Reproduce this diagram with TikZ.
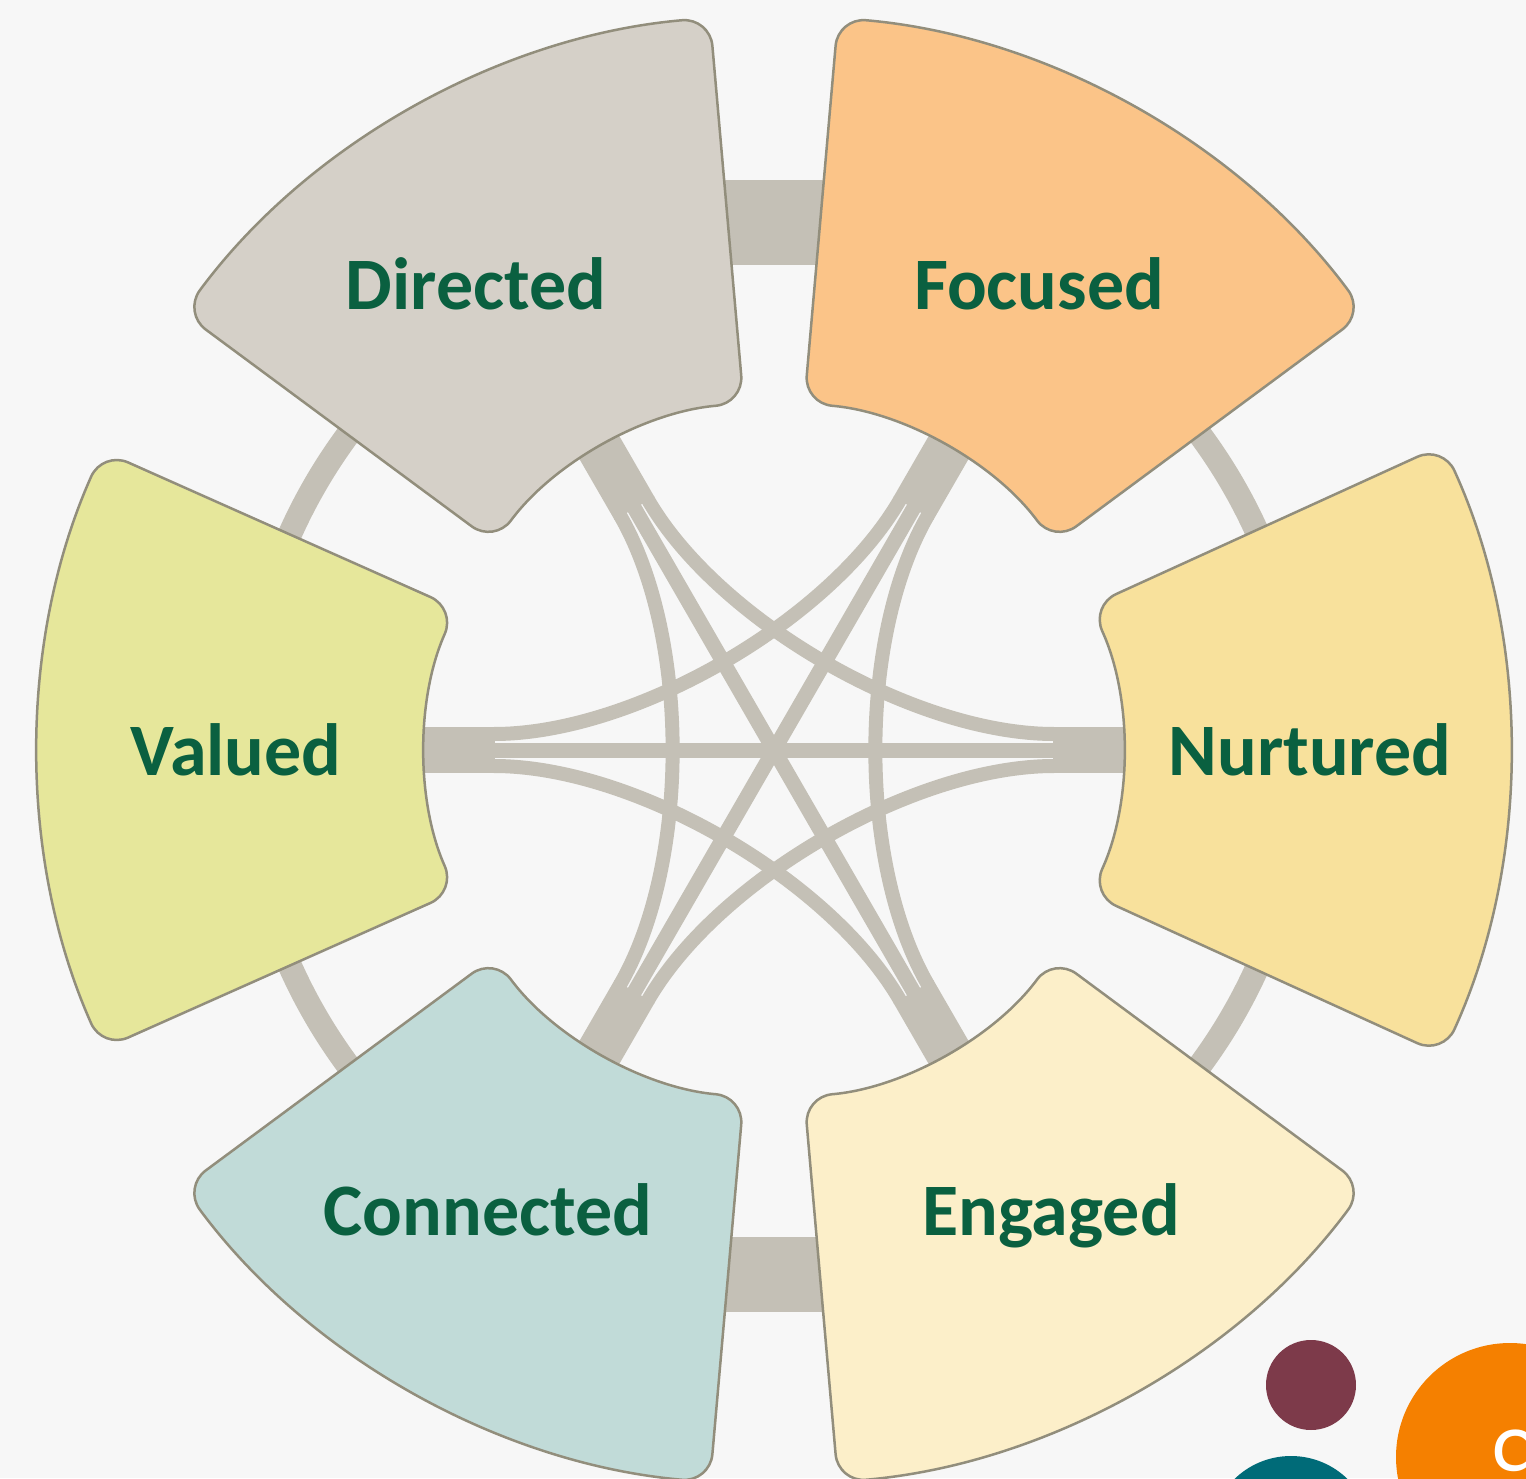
\documentclass[tikz,border=0pt]{standalone}
\usepackage{fontspec}
\setmainfont{Carlito}
\newfontfamily\pagefont{Open Sans}
\usetikzlibrary{calc}

\definecolor{bgcol}{RGB}{247,247,247}
\definecolor{linkcol}{RGB}{196,192,182}
\definecolor{rimcol}{RGB}{146,142,124}
\definecolor{wordcol}{RGB}{10,96,64}
\definecolor{dircol}{RGB}{213,208,200}
\definecolor{foccol}{RGB}{251,196,136}
\definecolor{valcol}{RGB}{230,231,155}
\definecolor{nurcol}{RGB}{248,225,156}
\definecolor{concol}{RGB}{193,219,216}
\definecolor{engcol}{RGB}{252,239,201}
\definecolor{dotred}{RGB}{125,58,74}
\definecolor{dotteal}{RGB}{0,107,120}
\definecolor{dotorange}{RGB}{245,128,0}

\tikzset{
  petal/.style={draw=rimcol, line width=1.25pt, rounded corners=14pt},
  link/.style={draw=linkcol},
  word/.style={font=\bfseries\fontsize{37}{40}\selectfont, text=wordcol,
    anchor=base, inner sep=0pt},
}

\newcommand{\drawpetal}[3]{%
  \draw[petal, fill=#3] (#1:540) -- (#1:735)
    arc[start angle=#1, end angle=#2, radius=735]
    -- (#2:348) arc[start angle=#2, end angle=#1, radius=348]
    -- cycle;
}

\begin{document}
\begin{tikzpicture}[x=0.5pt, y=0.5pt]
  \clip (-774,-728) rectangle (752,750);
  \fill[bgcol] (-774,-728) rectangle (752,750);

  \foreach \n/\a in {nur/0, foc/60, dir/120, val/180, con/240, eng/300} {
    \coordinate (\n) at (\a:280);
    \coordinate (\n-l) at ($(\a:280)+(\a+90:16)$);
    \coordinate (\n-r) at ($(\a:280)+(\a-90:16)$);
    \coordinate (\n-lc) at ($(\a:140)+(\a+90:16)$);
    \coordinate (\n-rc) at ($(\a:140)+(\a-90:16)$);
  }

  % ring links
  \fill[linkcol] (-50,485) rectangle (50,570);
  \fill[linkcol] (-50,-487) rectangle (50,-562);
  \foreach \a in {30,150,210,330}
    \draw[link, line width=12pt] (\a-10:530) arc[start angle=\a-10, end angle=\a+10, radius=530];

  % bands into the middle
  \foreach \a in {0,60,...,300}
    \draw[link, line width=23pt] (\a:279) -- (\a:360);
  \draw[link, line width=7.5pt] (nur) -- (val);
  \draw[link, line width=7.5pt] (foc) -- (con);
  \draw[link, line width=7.5pt] (dir) -- (eng);
  \draw[link, line width=7pt] (nur-l) .. controls (nur-lc) and (dir-rc) .. (dir-r);
  \draw[link, line width=7pt] (foc-l) .. controls (foc-lc) and (val-rc) .. (val-r);
  \draw[link, line width=7pt] (dir-l) .. controls (dir-lc) and (con-rc) .. (con-r);
  \draw[link, line width=7pt] (val-l) .. controls (val-lc) and (eng-rc) .. (eng-r);
  \draw[link, line width=7pt] (con-l) .. controls (con-lc) and (nur-rc) .. (nur-r);
  \draw[link, line width=7pt] (eng-l) .. controls (eng-lc) and (foc-rc) .. (foc-r);

  \drawpetal{-24.5}{24.5}{nurcol}
  \drawpetal{36.5}{85}{foccol}
  \drawpetal{95}{143.5}{dircol}
  \drawpetal{156}{204}{valcol}
  \drawpetal{216.5}{265}{concol}
  \drawpetal{275}{323.5}{engcol}

  \node[word] (directed) at (-298,440) {Directed};
  \node[word] (focused) at (265,440) {Focused};
  \node[word] (valued) at (-538,-25) {Valued};
  \node[word] (nurtured) at (536,-25) {Nurtured};
  \node[word] (connected) at (-286,-485) {Connected};
  \node[word] (engaged) at (277,-485) {Engaged};

  \fill[dotred] (537,-635) circle[radius=45];
  \fill[dotteal] (517,-787) circle[radius=81];
  \fill[dotorange] (736,-707) circle[radius=114];
  \node[font=\pagefont\fontsize{46}{50}\selectfont, text=white, anchor=base west,
    inner sep=0pt] (pagenum) at (716,-746) {9};
\end{tikzpicture}
\end{document}
